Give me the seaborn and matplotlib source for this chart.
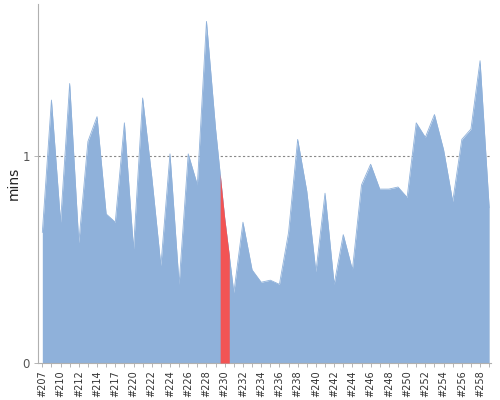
import numpy as np
import matplotlib
matplotlib.use("Agg")
import matplotlib.pyplot as plt
import seaborn as sns

# build numbers on the x axis (a few builds are missing at the start)
builds = [207, 208, 210, 211, 212, 213, 214, 215, 217, 218,
          220, 221, 222, 223, 224, 225, 226, 227, 228, 229,
          230, 231, 232, 233, 234, 235, 236, 237, 238, 239,
          240, 241, 242, 243, 244, 245, 246, 247, 248, 249,
          250, 251, 252, 253, 254, 255, 256, 257, 258, 259]

# build duration in minutes
mins = [0.63, 1.27, 0.68, 1.35, 0.58, 1.07, 1.19, 0.72, 0.68, 1.16,
        0.55, 1.28, 0.90, 0.47, 1.01, 0.38, 1.01, 0.86, 1.65, 1.13,
        0.70, 0.34, 0.68, 0.45, 0.39, 0.40, 0.38, 0.63, 1.08, 0.83,
        0.44, 0.82, 0.38, 0.62, 0.45, 0.86, 0.96, 0.84, 0.84, 0.85,
        0.80, 1.16, 1.09, 1.20, 1.03, 0.78, 1.08, 1.13, 1.46, 0.75]

failed = [230]

blue = "#8fb1da"
red = "#f25454"

sns.set_theme(style="white")
fig = plt.figure(figsize=(5, 4), dpi=100)
ax = fig.add_axes([0.0766, 0.0925, 0.9054, 0.8975])

idx = np.arange(len(builds))
ax.axhline(1, color="#888888", lw=0.8, ls=(0, (2, 2)), zorder=0)
ax.fill_between(idx, mins, color=blue, lw=0, zorder=1)
sns.lineplot(x=idx, y=mins, color=blue, lw=0.6, ax=ax, zorder=2)

# failed builds are coloured red over their own category slot
for b in failed:
    i = builds.index(b)
    xs = np.array([i - 0.5, i, i + 0.5])
    ax.fill_between(xs, np.interp(xs, idx, mins), color=red, lw=0, zorder=3)

ax.set_xlim(-0.44, len(builds) - 0.8)
ax.set_ylim(0, 1.734)
ax.set_yticks([0, 1])
ax.set_yticklabels(["0", "1"], fontsize=8.5, color="#555555")
ax.set_ylabel("mins", fontsize=10, color="#222222", labelpad=1)

ax.set_xticks(idx)
ax.set_xticklabels(["#%d" % b if k % 2 == 0 else "" for k, b in enumerate(builds)],
                   rotation=90, fontsize=7, color="#333333")
ax.tick_params(axis="x", length=3, width=0.6, color="#aaaaaa", pad=2, bottom=True)
ax.tick_params(axis="y", length=3, width=0.6, color="#aaaaaa", pad=3, left=True)

for side in ["top", "right"]:
    ax.spines[side].set_visible(False)
for side in ["left", "bottom"]:
    ax.spines[side].set_color("#b0b0b0")
    ax.spines[side].set_linewidth(0.8)

plt.savefig("out.png", dpi=100)
plt.close()
